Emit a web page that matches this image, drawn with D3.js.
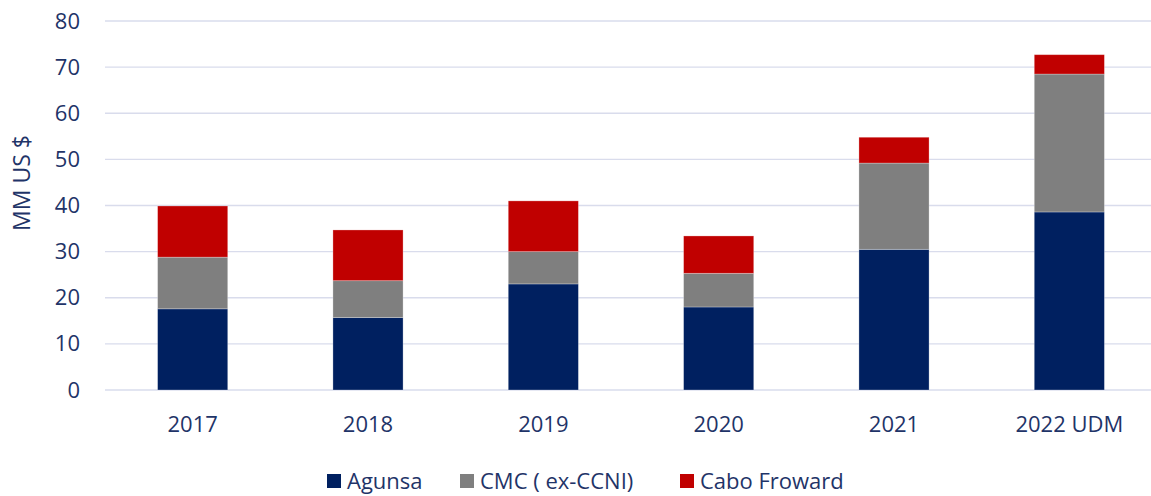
<!DOCTYPE html>
<html>
<head>
<meta charset="utf-8">
<script src="https://cdn.jsdelivr.net/npm/d3@7"></script>
<style>
  body { margin: 0; background: #fff; }
  svg text { font-family: "Open Sans", "Noto Sans", sans-serif; fill: #1f3468; }
</style>
</head>
<body>
<div id="chart"></div>
<script>
var years = ["2017", "2018", "2019", "2020", "2021", "2022 UDM"];
var agunsa = [17.6, 15.7, 23.0, 18.0, 30.5, 38.6];
var cmc = [11.2, 8.0, 7.0, 7.3, 18.7, 29.9];
var cabo = [11.1, 11.0, 11.0, 8.1, 5.6, 4.2];
var seriesNames = ["Agunsa", "CMC ( ex-CCNI)", "Cabo Froward"];
var colors = ["#002060", "#7f7f7f", "#c00000"];
var yTicks = [0, 10, 20, 30, 40, 50, 60, 70, 80];

var width = 1151, height = 496;
var margin = {top: 21, right: -6, bottom: 106, left: 105};
var innerW = width - margin.left - margin.right,
  innerH = height - margin.top - margin.bottom;

var rows = years.map(function(y, i) {
  return {year: y, Agunsa: agunsa[i], "CMC ( ex-CCNI)": cmc[i], "Cabo Froward": cabo[i]};
});

var svg = d3.select("#chart").append("svg")
  .attr("width", width)
  .attr("height", height);

var g = svg.append("g")
  .attr("transform", "translate(" + margin.left + "," + margin.top + ")");

var x = d3.scaleBand()
  .domain(years)
  .range([0, innerW])
  .paddingInner(0.6)
  .paddingOuter(0.3);

var y = d3.scaleLinear()
  .domain([0, 80])
  .range([innerH, 0]);

// gridlines
g.append("g")
  .selectAll("line")
  .data(yTicks)
  .enter().append("line")
  .attr("x1", 0)
  .attr("x2", innerW)
  .attr("y1", d => y(d))
  .attr("y2", d => y(d))
  .attr("stroke", "#d9dcec")
  .attr("stroke-width", 1.4);

var stack = d3.stack().keys(seriesNames);
var layers = stack(rows);

g.selectAll(".layer")
  .data(layers)
  .enter().append("g")
  .attr("class", "layer")
  .attr("fill", (d, i) => colors[i])
  .selectAll("rect")
  .data(d => d)
  .enter().append("rect")
  .attr("x", d => x(d.data.year))
  .attr("y", d => y(d[1]))
  .attr("width", x.bandwidth())
  .attr("height", d => y(d[0]) - y(d[1]))
  .attr("stroke", "rgba(255,255,255,0.35)")
  .attr("stroke-width", 0.8);

// y axis
var yAxis = d3.axisLeft(y).tickValues(yTicks).tickSize(0).tickPadding(25);
var yg = g.append("g").call(yAxis);
yg.select(".domain").remove();
yg.selectAll("text").attr("font-size", 22);

// x axis
var xAxis = d3.axisBottom(x).tickSize(0).tickPadding(26);
var xg = g.append("g")
  .attr("transform", "translate(0," + innerH + ")")
  .call(xAxis);
xg.select(".domain").remove();
xg.selectAll("text").attr("font-size", 22);

// y title
svg.append("text")
  .attr("transform", "translate(30,183) rotate(-90)")
  .attr("text-anchor", "middle")
  .attr("font-size", 23)
  .text("MM US $");

// legend
var legendX = [327, 460, 680];
var legend = svg.append("g").selectAll("g")
  .data(seriesNames)
  .enter().append("g")
  .attr("transform", (d, i) => "translate(" + legendX[i] + ",474)");
legend.append("rect")
  .attr("width", 14)
  .attr("height", 14)
  .attr("fill", (d, i) => colors[i]);
legend.append("text")
  .attr("x", 20)
  .attr("y", 7)
  .attr("dy", "0.35em")
  .attr("font-size", 22)
  .text(d => d);
</script>
</body>
</html>
